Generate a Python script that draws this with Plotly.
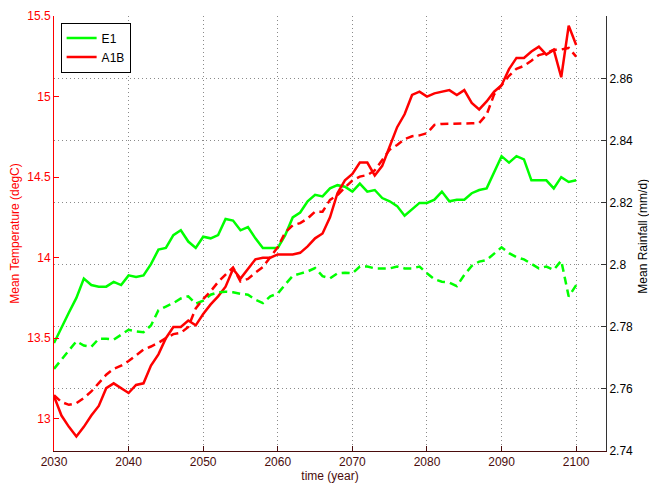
import plotly.graph_objects as go

years = list(range(2030, 2101))

e1_temp = [
    13.47, 13.57, 13.66, 13.75, 13.87, 13.83, 13.82, 13.82, 13.85, 13.83,
    13.89, 13.88, 13.89, 13.96, 14.05, 14.06, 14.14, 14.17, 14.10, 14.06,
    14.13, 14.12, 14.14, 14.24, 14.23, 14.17, 14.19, 14.12, 14.06, 14.06,
    14.06, 14.14, 14.25, 14.28, 14.35, 14.39, 14.38, 14.43, 14.45, 14.44,
    14.41, 14.46, 14.41, 14.42, 14.37, 14.35, 14.32, 14.26, 14.30, 14.34,
    14.34, 14.36, 14.41, 14.35, 14.36, 14.36, 14.40, 14.42, 14.43, 14.53,
    14.63, 14.59, 14.63, 14.61, 14.48, 14.48, 14.48, 14.43, 14.50, 14.47,
    14.48,
]

a1b_temp = [
    13.14, 13.02, 12.95, 12.89, 12.95, 13.02, 13.08, 13.19, 13.22, 13.19,
    13.16, 13.21, 13.22, 13.33, 13.40, 13.50, 13.57, 13.57, 13.61, 13.58,
    13.65, 13.71, 13.76, 13.82, 13.93, 13.87, 13.93, 13.99, 14.00, 14.00,
    14.02, 14.02, 14.02, 14.03, 14.07, 14.12, 14.15, 14.25, 14.40, 14.48,
    14.52, 14.59, 14.59, 14.51, 14.57, 14.69, 14.81, 14.89, 15.01, 15.03,
    15.00, 15.02, 15.03, 15.04, 15.01, 15.04, 14.96, 14.92, 14.97, 15.03,
    15.07, 15.17, 15.24, 15.24, 15.28, 15.31, 15.26, 15.29, 15.12, 15.44,
    15.32,
]

e1_rain = [
    2.7665, 2.7695, 2.7727, 2.7754, 2.7740, 2.7736, 2.7762, 2.7762, 2.7759, 2.7775,
    2.7791, 2.7786, 2.7783, 2.7805, 2.7854, 2.7866, 2.7877, 2.7892, 2.7899, 2.7875,
    2.7885, 2.7904, 2.7912, 2.7914, 2.7912, 2.7907, 2.7904, 2.7888, 2.7877, 2.7899,
    2.7908, 2.7937, 2.7965, 2.7972, 2.7979, 2.7990, 2.7964, 2.7957, 2.7973, 2.7975,
    2.7973, 2.7995, 2.7995, 2.7989, 2.7989, 2.7989, 2.7995, 2.7989, 2.7989, 2.7995,
    2.7973, 2.7954, 2.7946, 2.7943, 2.7932, 2.7968, 2.7997, 2.8011, 2.8016, 2.8035,
    2.8057, 2.8038, 2.8025, 2.8018, 2.8003, 2.7989, 2.7995, 2.7984, 2.8014, 2.7898,
    2.7935,
]

a1b_rain = [
    2.7580, 2.7558, 2.7549, 2.7554, 2.7571, 2.7592, 2.7619, 2.7646, 2.7665, 2.7675,
    2.7690, 2.7708, 2.7727, 2.7737, 2.7749, 2.7764, 2.7777, 2.7781, 2.7800, 2.7860,
    2.7890, 2.7915, 2.7945, 2.7969, 2.7992, 2.7947, 2.7955, 2.7975, 2.7993, 2.8025,
    2.8058, 2.8105, 2.8128, 2.8135, 2.8150, 2.8172, 2.8172, 2.8210, 2.8225, 2.8250,
    2.8272, 2.8285, 2.8290, 2.8305, 2.8340, 2.8372, 2.8387, 2.8406, 2.8415, 2.8418,
    2.8425, 2.8452, 2.8455, 2.8455, 2.8455, 2.8457, 2.8457, 2.8458, 2.8485, 2.8550,
    2.8580, 2.8610, 2.8633, 2.8642, 2.8659, 2.8677, 2.8683, 2.8694, 2.8695, 2.8700,
    2.8672,
]

x_ticks = [2030, 2040, 2050, 2060, 2070, 2080, 2090, 2100]
temp_ticks = [13, 13.5, 14, 14.5, 15, 15.5]
rain_ticks = [2.74, 2.76, 2.78, 2.80, 2.82, 2.84, 2.86]
rain_tick_text = ["2.74", "2.76", "2.78", "2.8", "2.82", "2.84", "2.86"]

GREEN = "#00ff00"
RED = "#ff0000"
MAROON = "#4a0c0c"
FONT = "Liberation Sans, Arial, Helvetica, sans-serif"

fig = go.Figure()

fig.add_trace(go.Scatter(x=years, y=e1_rain, mode="lines", yaxis="y2",
                         line=dict(color=GREEN, width=2.5, dash="8px,5px"),
                         showlegend=False, name="E1 rainfall"))
fig.add_trace(go.Scatter(x=years, y=a1b_rain, mode="lines", yaxis="y2",
                         line=dict(color=RED, width=2.5, dash="8px,5px"),
                         showlegend=False, name="A1B rainfall"))
fig.add_trace(go.Scatter(x=years, y=e1_temp, mode="lines", yaxis="y",
                         line=dict(color=GREEN, width=2.5), name="E1"))
fig.add_trace(go.Scatter(x=years, y=a1b_temp, mode="lines", yaxis="y",
                         line=dict(color=RED, width=2.5), name="A1B"))

fig.update_layout(
    width=649, height=484,
    margin=dict(l=54, r=43, t=16, b=33, autoexpand=False),
    paper_bgcolor="white", plot_bgcolor="white",
    font=dict(family=FONT, size=12, color="black"),
    xaxis=dict(
        range=[2030, 2104], tickvals=x_ticks,
        showgrid=True, gridcolor="#8a8a8a", griddash="1px,3px", gridwidth=1,
        zeroline=False, showline=True, linecolor=MAROON, linewidth=1,
        ticks="inside", ticklen=5, tickcolor=MAROON,
        tickfont=dict(color=MAROON, size=12),
        title=dict(text="time (year)", font=dict(color=MAROON, size=12), standoff=2),
        automargin=False,
    ),
    yaxis=dict(
        range=[12.8, 15.5], tickvals=temp_ticks,
        showgrid=False, zeroline=False, showline=True, linecolor=RED, linewidth=1,
        ticks="inside", ticklen=5, tickcolor=RED,
        tickfont=dict(color=RED, size=12),
        title=dict(text="Mean Temperature (degC)", font=dict(color=RED, size=12), standoff=5),
        automargin=False,
    ),
    yaxis2=dict(
        range=[2.74, 2.8803], tickvals=rain_ticks, ticktext=rain_tick_text,
        overlaying="y", side="right",
        showgrid=True, gridcolor="#8a8a8a", griddash="1px,3px", gridwidth=1,
        zeroline=False, showline=True, linecolor="#333333", linewidth=1,
        ticks="inside", ticklen=5, tickcolor="#333333",
        tickfont=dict(color="black", size=12),
        automargin=False,
    ),
    legend=dict(
        x=0.012, y=0.985, xanchor="left", yanchor="top",
        bgcolor="white", bordercolor="black", borderwidth=1,
        font=dict(family=FONT, size=12, color="black"),
        tracegroupgap=0, itemwidth=30,
    ),
    annotations=[dict(
        text="Mean Rainfall (mm/d)", xref="paper", yref="paper",
        x=1.068, y=0.494, xanchor="center", yanchor="middle",
        textangle=-90, showarrow=False,
        font=dict(family=FONT, size=12, color="black"),
    )],
)

# remove the browser's default page margin so the 649x484 figure fills the window exactly
fig.write_html(
    "out.html",
    config={"displayModeBar": False},
    post_script="document.body.style.margin='0';document.body.style.overflow='hidden';",
)
